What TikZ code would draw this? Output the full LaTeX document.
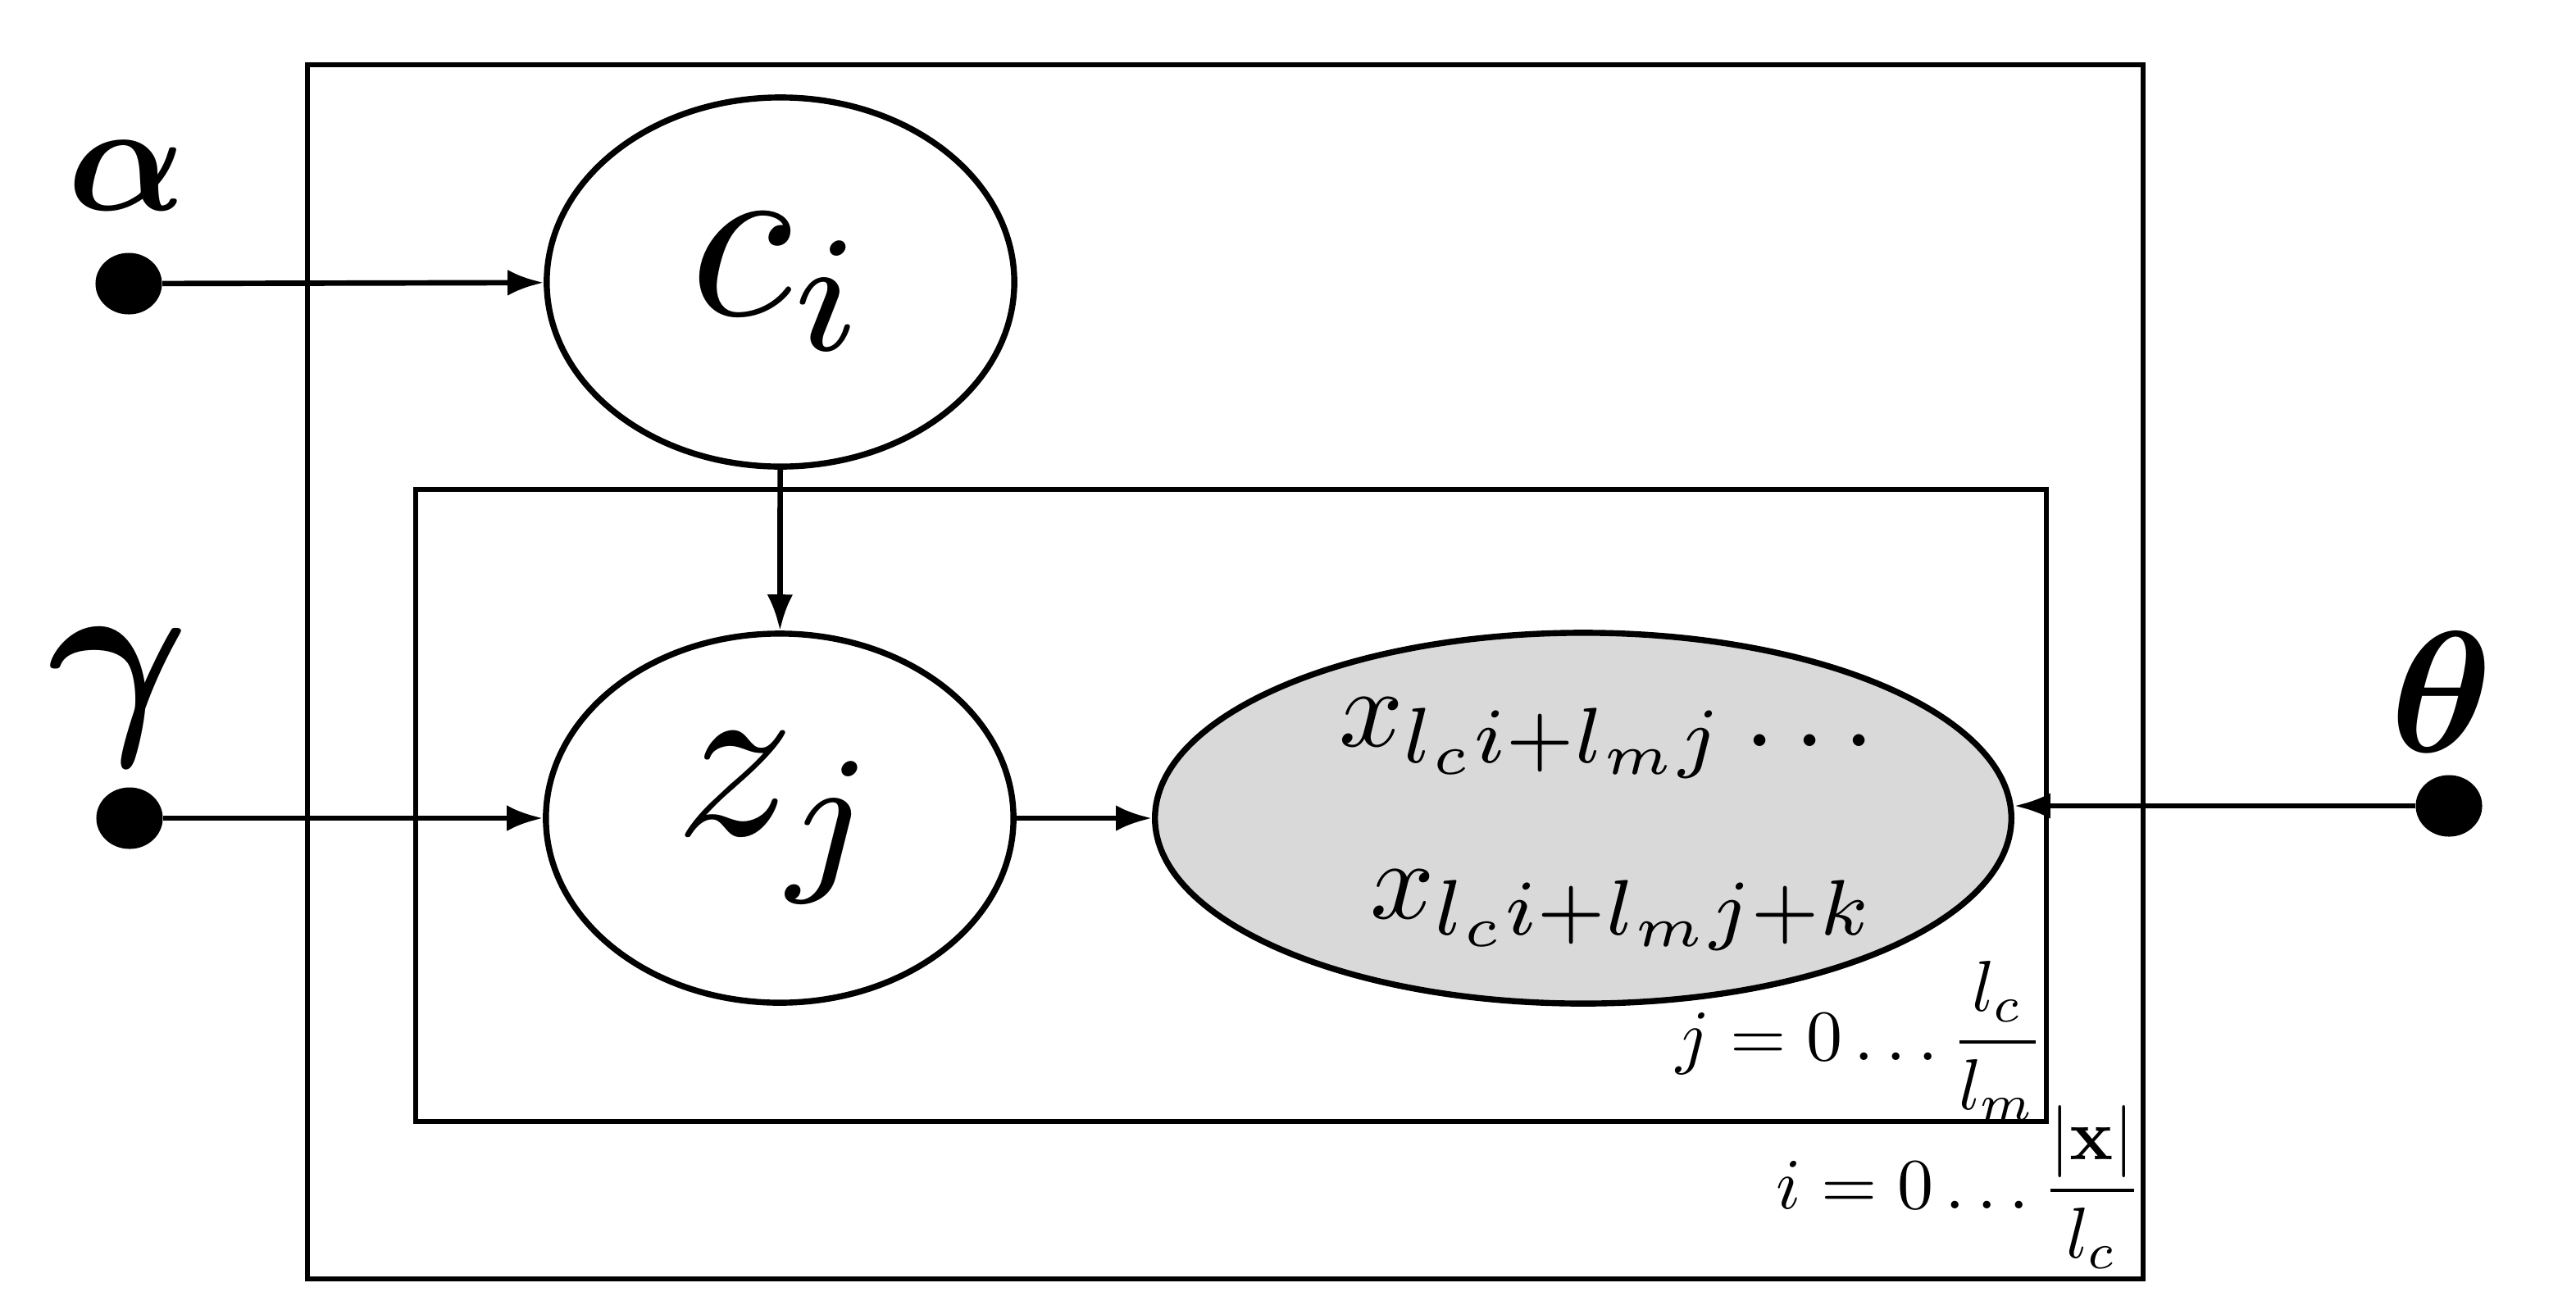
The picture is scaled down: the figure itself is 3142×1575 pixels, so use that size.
\documentclass[tikz,border=0pt]{standalone}
\usepackage{graphicx}
\usepackage{amsmath}
\usetikzlibrary{arrows.meta,shapes.geometric}
\definecolor{obsfill}{RGB}{217,217,217}
\newcommand{\bigsc}[2]{\scalebox{#1}{#2}}
\begin{document}
\begin{tikzpicture}[x=0.01cm,y=-0.01cm,
  plate/.style={draw,line width=1.9pt},
  varnode/.style={ellipse,draw,line width=2.1pt,inner sep=0pt,minimum width=5.7cm,minimum height=4.5cm},
  obsnode/.style={ellipse,draw,line width=2.1pt,fill=obsfill,inner sep=0pt,minimum width=10.44cm,minimum height=4.52cm},
  dotnode/.style={ellipse,fill=black,inner sep=0pt,minimum width=0.81cm,minimum height=0.75cm},
  arr/.style={-{Latex[length=12.5pt,width=9pt]},line width=1.9pt},
  txt/.style={inner sep=0pt}
]
\useasboundingbox (0,0) rectangle (3142,1575);
% plates
\draw[plate] (375,79) rectangle (2614,1560);
\draw[plate] (507,597) rectangle (2496,1368);
% variable nodes
\node[varnode] (c) at (952,344) {\bigsc{8.2}{$c_i$}};
\node[varnode] (z) at (951,998) {\bigsc{8.2}{$z_j$}};
\node[obsnode] (x) at (1931,998) {};
\node[txt,anchor=base east] (x1) at (2288,910) {\bigsc{3.9}{$x_{l_ci+l_mj}\ldots$}};
\node[txt,anchor=base east] (x2) at (2288,1120) {\bigsc{3.9}{$x_{l_ci+l_mj+k}$}};
% hyperparameter dots
\node[dotnode] (a) at (157,346) {};
\node[dotnode] (g) at (158,998) {};
\node[dotnode] (t) at (2987,983) {};
\node[txt] (la) at (155,214) {\bigsc{5.4}{$\boldsymbol{\alpha}$}};
\node[txt] (lg) at (145,851) {\bigsc{7.5}{$\boldsymbol{\gamma}$}};
\node[txt] (lt) at (2978,844) {\bigsc{6.0}{$\boldsymbol{\theta}$}};
% plate labels
\node[txt,anchor=base east] (lj) at (2494,1293) {\bigsc{2.5}{$j=0\ldots\dfrac{l_c}{l_m}$}};
\node[txt,anchor=base east] (li) at (2614,1474) {\bigsc{2.5}{$i=0\ldots\dfrac{|\mathbf{x}|}{l_c}$}};
% edges
\draw[arr] (a) -- (c);
\draw[arr] (c) -- (z);
\draw[arr] (g) -- (z);
\draw[arr] (z) -- (x);
\draw[arr] (t) -- (t -| x.east);
\end{tikzpicture}
\end{document}
